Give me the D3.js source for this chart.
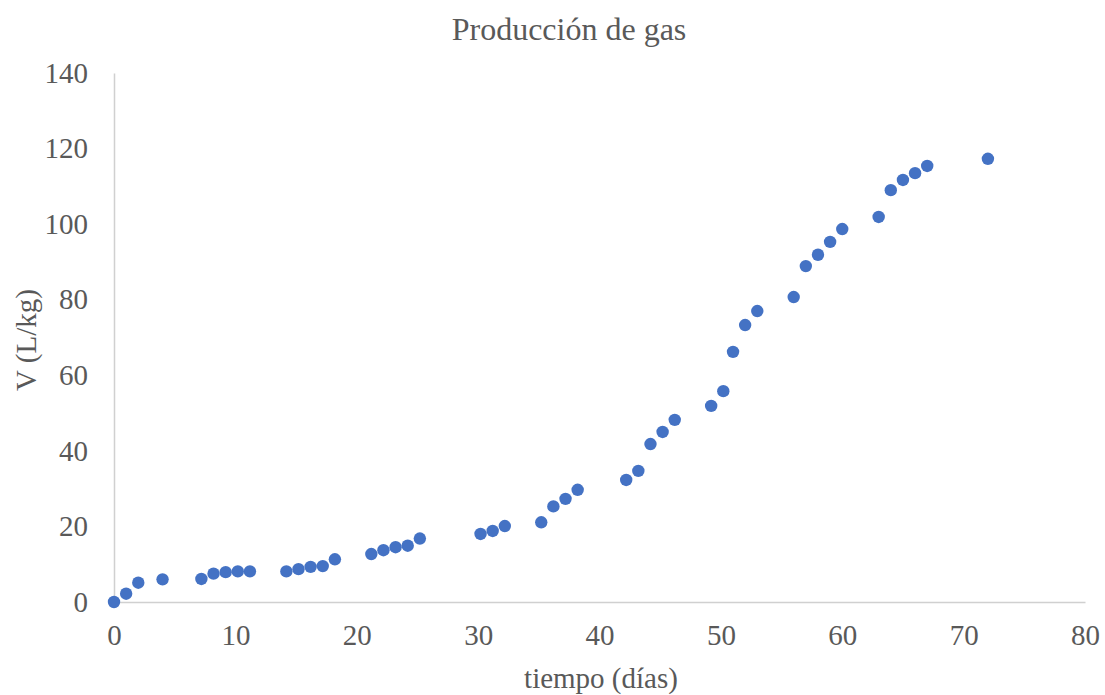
<!DOCTYPE html>
<html>
<head>
<meta charset="utf-8">
<script src="https://cdn.jsdelivr.net/npm/d3@7"></script>
<style>
  html, body { margin: 0; padding: 0; background: #fff; }
  svg text { font-family: "Liberation Serif", "Times New Roman", serif; fill: #595959; }
</style>
</head>
<body>
<svg id="chart" width="1105" height="695"></svg>
<script>
// Tiempo de medición (días) y volumen acumulado de gas (L/kg)
const dias = [0, 1, 2, 4, 7.2, 8.2, 9.2, 10.2, 11.2, 14.2, 15.2, 16.2, 17.2, 18.2,
  21.2, 22.2, 23.2, 24.2, 25.2, 30.2, 31.2, 32.2, 35.2, 36.2, 37.2, 38.2, 42.2, 43.2,
  44.2, 45.2, 46.2, 49.2, 50.2, 51, 52, 53, 56, 57, 58, 59, 60, 63, 64, 65, 66, 67, 72];
const volumen = [0, 2.2, 5.1, 6.0, 6.1, 7.5, 7.9, 8.1, 8.1, 8.1, 8.7, 9.3, 9.5, 11.3,
  12.7, 13.7, 14.5, 14.9, 16.8, 18.0, 18.8, 20.1, 21.1, 25.3, 27.3, 29.7, 32.3, 34.7,
  41.8, 45.0, 48.2, 51.9, 55.8, 66.2, 73.3, 77.0, 80.7, 88.9, 91.9, 95.3, 98.7, 101.9,
  109.0, 111.7, 113.5, 115.4, 117.3];
const ticksX = [0, 10, 20, 30, 40, 50, 60, 70, 80];
const ticksY = [0, 20, 40, 60, 80, 100, 120, 140];

const puntos = dias.map((d, i) => ({ x: d, y: volumen[i] }));

const svg = d3.select("#chart");
const area = { izq: 114, der: 1085, sup: 73, inf: 602 };

const x = d3.scaleLinear().domain([0, 80]).range([area.izq, area.der]);
const y = d3.scaleLinear().domain([0, 140]).range([area.inf, area.sup]);

// Título
svg.append("text")
  .attr("x", 569).attr("y", 40)
  .attr("text-anchor", "middle")
  .style("font-size", "32px")
  .text("Producción de gas");

// Eje Y
const ejeY = svg.append("g")
  .attr("transform", `translate(${area.izq},0)`)
  .call(d3.axisLeft(y).tickValues(ticksY).tickSize(0).tickPadding(26).tickFormat(d3.format("d")));
ejeY.select(".domain").attr("stroke", "#d0d0d0").attr("stroke-width", 1.5);
ejeY.selectAll("text").style("font-size", "29px").attr("fill", "#595959").attr("font-family", null);

// Eje X
const ejeX = svg.append("g")
  .attr("transform", `translate(0,${area.inf})`)
  .call(d3.axisBottom(x).tickValues(ticksX).tickSize(0).tickPadding(22).tickFormat(d3.format("d")));
ejeX.select(".domain").attr("stroke", "#d0d0d0").attr("stroke-width", 1.5);
ejeX.selectAll("text").style("font-size", "29px").attr("fill", "#595959").attr("font-family", null);

// Títulos de ejes
svg.append("text")
  .attr("x", 601).attr("y", 688)
  .attr("text-anchor", "middle")
  .style("font-size", "29px")
  .text("tiempo (días)");

svg.append("text")
  .attr("transform", "translate(36,340) rotate(-90)")
  .attr("text-anchor", "middle")
  .style("font-size", "29px")
  .text("V (L/kg)");

// Puntos
svg.append("g")
  .selectAll("circle")
  .data(puntos)
  .join("circle")
  .attr("cx", d => x(d.x))
  .attr("cy", d => y(d.y))
  .attr("r", 6.2)
  .attr("fill", "#4472C4");
</script>
</body>
</html>
